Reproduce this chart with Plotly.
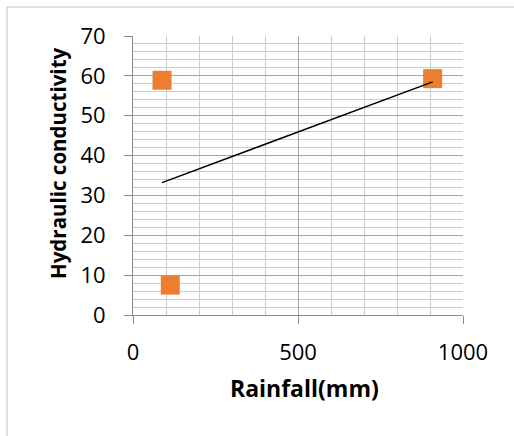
import numpy as np
import plotly.graph_objects as go

rainfall = [88, 113, 908]
conductivity = [58.9, 7.5, 59.3]
x_title = "Rainfall(mm)"
y_title = "Hydraulic conductivity"

slope, intercept = np.polyfit(rainfall, conductivity, 1)
tx = [min(rainfall), max(rainfall)]
ty = [slope * v + intercept for v in tx]

FONT = "Open Sans"
fig = go.Figure()
fig.add_trace(go.Scatter(x=rainfall, y=conductivity, mode="markers",
                         marker=dict(symbol="square", size=19, color="#ED7D31"),
                         showlegend=False, hoverinfo="skip"))
fig.add_trace(go.Scatter(x=tx, y=ty, mode="lines",
                         line=dict(color="black", width=1.5),
                         showlegend=False, hoverinfo="skip"))

L, T, W, H = 133, 36, 330, 279
fig.update_layout(
    width=514, height=436,
    margin=dict(l=L, r=514 - L - W, t=T, b=436 - T - H, autoexpand=False),
    paper_bgcolor="white", plot_bgcolor="white",
    font=dict(family=FONT, color="black"),
    xaxis=dict(range=[0, 1000], dtick=500, tick0=0, showgrid=True,
               gridcolor="#a6a6a6", gridwidth=1,
               minor=dict(dtick=100, showgrid=True, gridcolor="#cccccc", gridwidth=1),
               showline=True, linecolor="#8c8c8c", linewidth=1,
               ticks="outside", ticklen=8, tickcolor="#8c8c8c",
               tickfont=dict(size=22, family=FONT, color="black"),
               ticklabelstandoff=10, zeroline=False, fixedrange=True),
    yaxis=dict(range=[0, 70], dtick=10, tick0=0, showgrid=True,
               gridcolor="#a6a6a6", gridwidth=1,
               minor=dict(dtick=2, showgrid=True, gridcolor="#cccccc", gridwidth=1),
               showline=True, linecolor="#8c8c8c", linewidth=1,
               ticks="outside", ticklen=8, tickcolor="#8c8c8c",
               tickfont=dict(size=22, family=FONT, color="black"),
               ticklabelstandoff=14, zeroline=False, fixedrange=True),
    annotations=[
        dict(text="<b>" + x_title + "</b>", xref="paper", yref="paper",
             x=(304 - L) / W, y=(T + H - 388) / H, showarrow=False,
             xanchor="center", yanchor="middle",
             font=dict(size=23, family=FONT, color="black")),
        dict(text="<b>" + y_title + "</b>", xref="paper", yref="paper",
             x=(58 - L) / W, y=(T + H - 163) / H, showarrow=False,
             textangle=-90, xanchor="center", yanchor="middle",
             font=dict(size=20.5, family=FONT, color="black")),
    ],
    shapes=[dict(type="rect", xref="paper", yref="paper",
                 x0=(7 - L) / W, x1=(540 - L) / W,
                 y0=(T + H - 460) / H, y1=(T + H - 7) / H,
                 line=dict(color="#bfbfbf", width=1), fillcolor="rgba(0,0,0,0)",
                 layer="below")],
)
fig.write_html("out.html")
